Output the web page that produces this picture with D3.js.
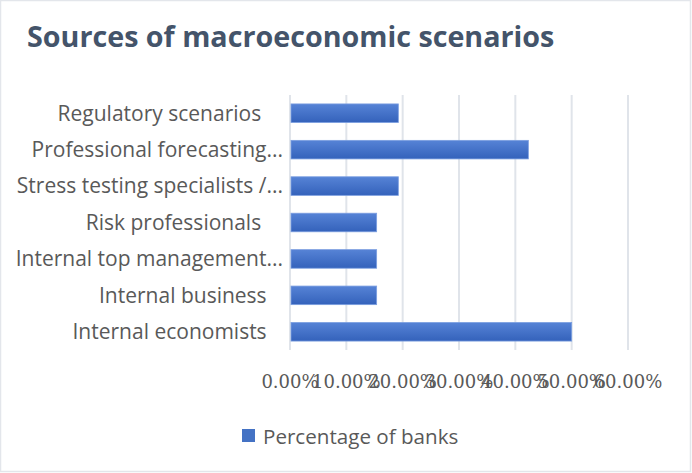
<!DOCTYPE html>
<html>
<head>
<meta charset="utf-8">
<script src="https://cdn.jsdelivr.net/npm/d3@7"></script>
<style>
  html, body { margin: 0; padding: 0; background: #fff; }
  svg { display: block; }
  text { white-space: pre; }
</style>
</head>
<body>
<div id="chart"></div>
<script>
const title = "Sources of macroeconomic scenarios";
const categories = [
  "Regulatory scenarios    ",
  "Professional forecasting...",
  "Stress testing specialists /...",
  "Risk professionals    ",
  "Internal top management...",
  "Internal business   ",
  "Internal economists   "
];
const values = [0.1923, 0.4231, 0.1923, 0.1538, 0.1538, 0.1538, 0.5];
const tickValues = [0, 0.1, 0.2, 0.3, 0.4, 0.5, 0.6];
const seriesName = "Percentage of banks";

const W = 692, H = 473;
const svg = d3.select("#chart").append("svg").attr("width", W).attr("height", H);

const defs = svg.append("defs");
const grad = defs.append("linearGradient").attr("id", "barGrad")
  .attr("x1", 0).attr("y1", 0).attr("x2", 0).attr("y2", 1);
grad.append("stop").attr("offset", "0%").attr("stop-color", "#5683d6");
grad.append("stop").attr("offset", "100%").attr("stop-color", "#3462bb");

// chart border
svg.append("rect").attr("x", 0.5).attr("y", 0.5).attr("width", W - 2).attr("height", H - 2)
  .attr("fill", "#fff").attr("stroke", "#e3e6eb").attr("stroke-width", 1.5);

// title
svg.append("text").attr("x", 27).attr("y", 47)
  .attr("font-family", "'Open Sans', sans-serif").attr("font-weight", 700)
  .attr("font-size", 28.7).attr("fill", "#44546a").text(title);

const x = d3.scaleLinear().domain([0, 0.6]).range([290, 628]);
const y = d3.scaleBand().domain(categories).range([95, 350]).paddingInner(0.49).paddingOuter(0.245);

// gridlines
svg.append("g").selectAll("line").data(tickValues).join("line")
  .attr("x1", d => x(d)).attr("x2", d => x(d))
  .attr("y1", 95).attr("y2", 350)
  .attr("stroke", "#e0e4ea").attr("stroke-width", 2);

// bars
svg.append("g").selectAll("rect").data(categories).join("rect")
  .attr("x", x(0) + 1)
  .attr("y", d => y(d))
  .attr("width", (d, i) => x(values[i]) - x(0) - 1)
  .attr("height", y.bandwidth())
  .attr("fill", "url(#barGrad)")
  .attr("stroke", "#7b9ee0").attr("stroke-width", 0.8);

// category labels
svg.append("g").selectAll("text").data(categories).join("text")
  .attr("x", 283)
  .attr("y", d => y(d) + y.bandwidth() / 2)
  .attr("dy", "0.35em")
  .attr("text-anchor", "end")
  .attr("font-family", "'Open Sans', sans-serif")
  .attr("font-size", 21)
  .attr("fill", "#595959")
  .text(d => d);

// x axis tick labels
const fmt = d3.format(".2%");
svg.append("g").selectAll("text").data(tickValues).join("text")
  .attr("x", d => x(d))
  .attr("y", 388)
  .attr("text-anchor", "middle")
  .attr("font-family", "'DejaVu Serif', serif")
  .attr("font-size", 18)
  .attr("fill", "#595959")
  .text(d => fmt(d));

// legend
svg.append("rect").attr("x", 242).attr("y", 429).attr("width", 13).attr("height", 13)
  .attr("fill", "#4472c4");
svg.append("text").attr("x", 263).attr("y", 443.5)
  .attr("font-family", "'Open Sans', sans-serif")
  .attr("font-size", 20.6).attr("fill", "#595959").text(seriesName);
</script>
</body>
</html>
